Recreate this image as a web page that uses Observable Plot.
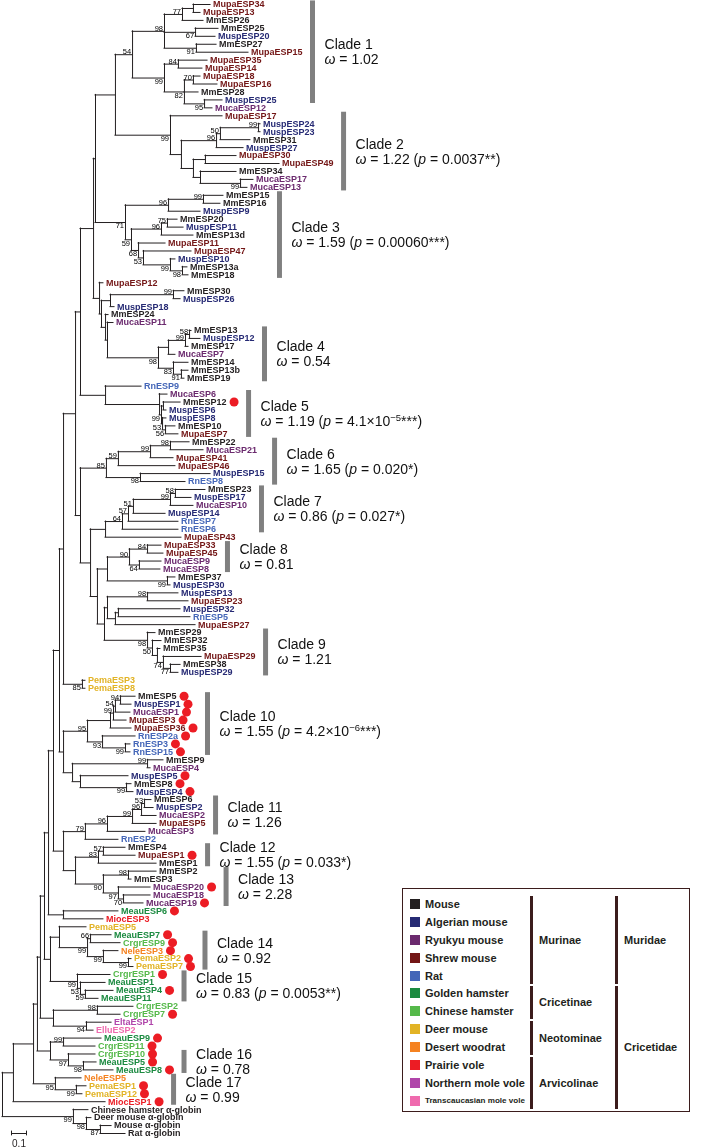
<!DOCTYPE html>
<html><head><meta charset="utf-8">
<script src="https://cdn.jsdelivr.net/npm/d3@7"></script>
<script src="https://cdn.jsdelivr.net/npm/@observablehq/plot@0.6"></script>
<style>
html,body{margin:0;padding:0;background:#fff;}
#wrap{position:relative;width:701px;height:1148px;overflow:hidden;font-family:'Liberation Sans',Arial,sans-serif;}
#wrap svg{display:block;will-change:transform;}
</style></head><body><div id="wrap"></div>
<script>
// ---------------- DATA ----------------
// species (prefix of each ESP gene name), common names and colours
const speciesCodes  = ["Mm","Musp","Muca","Mupa","Rn","Meau","Crgr","Pema","Nele","Mioc","Elta","Ellu"];
const speciesNames  = ["Mouse","Algerian mouse","Ryukyu mouse","Shrew mouse","Rat","Golden hamster","Chinese hamster","Deer mouse","Desert woodrat","Prairie vole","Northern mole vole","Transcaucasian mole vole"];
const speciesColors = ["#231f20","#262a74","#6b2a6e","#731616","#4466b8","#1b8a40","#55b94a","#e2b325","#f58220","#ec1c24","#b045aa","#ef6aae"];
const subfamilyNames = ["Murinae","Cricetinae","Neotominae","Arvicolinae"];
const subfamilySpan  = [[0,4],[5,6],[7,8],[9,11]];   // first / last species row
const familyNames    = ["Muridae","Cricetidae"];
const familySpan     = [[0,4],[5,11]];

// Tree (Newick); the number after ':' is the node's distance from the root,
// in substitutions per 100 sites; internal labels are bootstrap values.
const clade1 = "((((MupaESP34:138.7,MupaESP13:132):127.3,MmESP26:134)77:120,(MmESP25:144,MuspESP20:142)67:128.7,(MmESP27:142.7,MupaESP15:164)91:129.3)98:108,((MupaESP35:136.7,MupaESP14:133.3)84:117.3,((MupaESP18:132,MupaESP16:143.3)70:127.3,MmESP28:130.7,(MuspESP25:146.7,MucaESP12:140)95:134.7)82:121.3)99:108)54:86.7";
const clade2 = "(MupaESP17:146.7,((((MuspESP24:172,MuspESP23:172)99:170.7,MmESP31:165.3)50:145.3,MuspESP27:160.7)96:142.7,((MupaESP30:156,MupaESP49:184.7):135.3,(MmESP34:156,(MucaESP17:167.3,MucaESP13:163.3)99:158.7):132):127.3):119.3)99:112";
const clade3 = "(((MmESP15:147.3,MmESP16:145.3)99:134,MuspESP9:132)96:110.7,(((MmESP20:116.7,MuspESP11:120.7)75:110,MmESP13d:127.3)96:106,(MupaESP11:108.7,(MupaESP47:126,(MuspESP10:115.3,(MmESP13a:123.3,MmESP18:124)98:120)99:112)53:94)68:90.7)59:86)71:82";
const clade4 = "((((MmESP13:126,MuspESP12:132)58:124.7,MmESP17:124)99:122,MucaESP7:115.3):110.7,(MmESP14:124,(MmESP13b:124,MmESP19:121.3)91:119.3)83:114)98:104";
const group12 = "(MupaESP12:67.3,(((MmESP30:121.3,MuspESP26:118.7)99:114,MuspESP18:74.7):72,(MmESP24:70.7,(MucaESP11:74," + clade4 + "):70):68.7):66):64.7";
const clade5 = "(RnESP9:92.7,(MucaESP6:110,((MmESP12:118.7,MuspESP6:109.3):107.3,(MuspESP8:109.3,(MmESP10:115.3,MupaESP7:117.3)56:108.7)53:106.7)99:106):104.7):68.7";
const clade6 = "((((MmESP22:124.7,MucaESP21:134)98:112,MupaESP41:114)99:98.7,MupaESP46:115.3)59:77.3,(MuspESP15:138.7,RnESP8:122)98:92)85:69.3";
const clade7 = "((((((MmESP23:135.3,MuspESP17:126)58:115.3,MucaESP10:127.3)99:112,MuspESP14:108.7)51:87.3,RnESP7:117.3)57:84,RnESP6:117.3)64:80,MupaESP43:119.3):68.7";
const clade8 = "(((MupaESP33:106,MupaESP45:107.3)84:96.7,(MucaESP9:106,MucaESP8:105.3)64:91.3)90:84.7,(MmESP37:115.3,MuspESP30:112)99:110):70";
const group13 = "((MuspESP13:117.3,MupaESP23:124)98:96.7,((MuspESP32:118.7,RnESP5:125.3):77.3,MupaESP27:128.7):75.3):70";
const clade9 = "(MmESP29:102,(MmESP32:106,(MmESP35:105.3,(MupaESP29:132.7,(MmESP38:118.7,MuspESP29:117.3)77:112)74:107.3):103.3)50:100)98:96.7";
const pema38 = "(PemaESP3:55.3,PemaESP8:55.3)85:53.3";
const clade10 = "(((((MmESP5:88.7,MuspESP1:86)94:78.7,MucaESP1:85.3)54:75.3,MupaESP3:82.7)99:74,MupaESP36:86):72,(RnESP2a:88.7,(RnESP3:85.3,RnESP15:85.3)99:82)93:66.7)95:56.7";
const group9 = "((MmESP9:107.3,MucaESP4:98.7)99:96.7,(MuspESP5:84,(MmESP8:86,MuspESP4:87.3)99:82.7):52):46.7";
const clade11 = "(((((MmESP6:99.3,MuspESP2:100.7)53:94.7,MucaESP2:102.7)96:92.7,MupaESP5:102.7)99:86.7,MucaESP3:95.3)96:70,RnESP2:77.3)79:55.3";
const clade1213 = "(((MmESP4:82,MupaESP1:88.7)57:67.3,MmESP1:102.7)83:64,((MmESP2:102.7,MmESP3:86)98:84,(MucaESP20:98.7,(MucaESP18:98.7,MucaESP19:94)70:80.7)97:77.3)90:67.3):48.7";
const meauMioc = "(MeauESP6:77.3,MiocESP3:67.3):40.7";
const clade14 = "(PemaESP5:56,((MeauESP7:72.7,CrgrESP9:78.7)66:58.7,(NeleESP3:77.3,(PemaESP2:86,PemaESP7:87.3)99:84)99:67.3)99:56.7):38";
const clade15 = "(CrgrESP1:72,(MeauESP1:68.7,(MeauESP4:74,MeauESP11:64)59:55.3)53:52)99:50";
const crgrElta = "((CrgrESP2:87.3,CrgrESP7:78.7)98:63.3,(EltaESP1:72.7,ElluESP2:60.7)94:56):34";
const clade16 = "((MeauESP9:66,CrgrESP11:62)99:40.7,(CrgrESP10:62,(MeauESP5:62.7,MeauESP8:74)98:54)97:44):32";
const clade17 = "(NeleESP5:52.7,(PemaESP1:56,PemaESP12:53.3)99:49.3)95:35.3";
const globins = "(Chinese hamster α-globin:57.3,(Deer mouse α-globin:59.3,(Mouse α-globin:72.7,Rat α-globin:82)87:65.3)98:56)99:47.3";
// backbone joins: [depth, subtrees...]
const J = (d, ...p) => `(${p.join(",")}):${d}`;
const N115 = J(75.3, clade1, clade2);
const N95 = J(62, N115, clade3);
const N93 = J(60.7, N95, group12);
const N80 = J(52, N93, clade5);
const N106 = J(68, group13, clade9);
const N97 = J(63.3, clade8, N106);
const N90 = J(58.7, clade7, N97);
const N80b = J(52, clade6, N90);
const N75 = J(48.7, N80, N80b);
const N63 = J(40.7, N75, pema38);
const N63c = J(40.7, clade10, group9);
const N59 = J(38, N63, N63c);
const N63b = J(40.7, clade11, clade1213);
const N53 = J(34, N59, N63b);
const N48 = J(30.7, N53, meauMioc);
const N50 = J(32, clade14, clade15);
const N44 = J(28, N48, N50);
const N40 = J(25.3, N44, crgrElta);
const Nbig = J(23.3, N40, clade16);
const N35 = J(20.7, Nbig, clade17);
const ingroup = J(7.3, N35, "MiocESP1:68.7");
const newick = J(0, ingroup, globins) + ";";

// genes marked with a red dot
const dotLeaves = ["MmESP12","MmESP5","MuspESP1","MucaESP1","MupaESP3","MupaESP36","RnESP2a","RnESP3","RnESP15","MuspESP5","MmESP8","MuspESP4","MupaESP1","MucaESP20","MucaESP19","MeauESP6","MeauESP7","CrgrESP9","NeleESP3","PemaESP2","PemaESP7","CrgrESP1","MeauESP4","CrgrESP7","MeauESP9","CrgrESP11","CrgrESP10","MeauESP5","MeauESP8","PemaESP1","PemaESP12","MiocESP1"];

// clades with omega values
const cladeFirst = ["MupaESP34","MupaESP17","MmESP15","MmESP13","MucaESP6","MmESP22","MmESP23","MupaESP33","MmESP29","MmESP5","MmESP6","MmESP4","MmESP2","MeauESP7","CrgrESP1","CrgrESP10","NeleESP5"];
const cladeLast  = ["MuspESP25","MucaESP13","MmESP18","MmESP19","MupaESP7","RnESP8","RnESP6","MucaESP8","MuspESP29","RnESP15","MucaESP3","MmESP1","MucaESP19","PemaESP7","MeauESP11","MeauESP8","MiocESP1"];
const cladeOmega = ["1.02","1.22","1.59","0.54","1.19","1.65","0.86","0.81","1.21","1.55","1.26","1.55","2.28","0.92","0.83","0.78","0.99"];
const cladeP     = ["","0.0037","0.00060","","4.1×10^−5","0.020","0.027","","","4.2×10^−6","","0.033","","","0.0053","",""];
const cladeStars = ["","**","***","","***","*","*","","","***","","*","","","**","",""];

const scaleBarLength = 10; // = 0.1 substitutions per site
const scaleBarLabel = "0.1";

// ---------------- BUILD ----------------
function parseNewick(s) {
  let i = 0;
  function node() {
    const n = {children: []};
    if (s[i] === "(") {
      i++;
      n.children.push(node());
      while (s[i] === ",") { i++; n.children.push(node()); }
      i++;
    }
    let lab = "";
    while (i < s.length && !",():;".includes(s[i])) lab += s[i++];
    n.label = lab.trim();
    if (s[i] === ":") { i++; let num = ""; while (i < s.length && !",();".includes(s[i])) num += s[i++]; n.depth = +num; }
    return n;
  }
  return node();
}
const root = parseNewick(newick);
const nodes = [], leaves = [];
(function layout(n, parent) {
  n.parent = parent; nodes.push(n);
  if (!n.children.length) { n.y = leaves.length; leaves.push(n); }
  else { n.children.forEach(c => layout(c, n)); n.y = (n.children[0].y + n.children[n.children.length - 1].y) / 2; }
})(root, null);

const colorOf = name => { const k = speciesCodes.indexOf(name.split("ESP")[0]); return k >= 0 ? speciesColors[k] : "#231f20"; };

const W = 701, H = 1148;
const xDomain = [0, 466], xRange = [2, 701];
const yDomain = [0, leaves.length - 1], yRange = [4, 1133];
const xs = Plot.scale({x: {domain: xDomain, range: xRange}});

const FONT = "'Liberation Sans', Arial, sans-serif";
const ctx = document.createElement("canvas").getContext("2d");
ctx.font = `bold 9px ${FONT}`;
const leafDx = 2.5, dotGap = 7.5, dotR = 4.5;
leaves.forEach(l => {
  l.w = ctx.measureText(l.label).width;
  l.dot = dotLeaves.includes(l.label);
  l.dotPx = xs.apply(l.depth) + leafDx + l.w + dotGap;
  l.endPx = l.dot ? l.dotPx + dotR : xs.apply(l.depth) + leafDx + l.w;
});
const byName = new Map(leaves.map(l => [l.label, l]));

const hEdges = nodes.filter(n => n.parent).map(n => ({x1: n.parent.depth, x2: n.depth, y: n.y}));
const vEdges = nodes.filter(n => n.children.length).map(n => ({x: n.depth, y1: n.children[0].y, y2: n.children[n.children.length - 1].y}));
const boots = nodes.filter(n => n.children.length && n.label && n.parent);
const bootAbove = boots.filter(n => n.parent.children[0] === n);
const bootBelow = boots.filter(n => n.parent.children[0] !== n);
const dots = leaves.filter(l => l.dot).map(l => ({x: xs.invert(l.dotPx), y: l.y}));

const clades = cladeFirst.map((f, i) => {
  const a = byName.get(f).y, b = byName.get(cladeLast[i]).y;
  const maxEnd = d3.max(leaves.slice(a, b + 1), l => l.endPx);
  return {name: "Clade " + (i + 1), omega: cladeOmega[i], p: cladeP[i], stars: cladeStars[i],
          bx: xs.invert(maxEnd + 10), y1: a - 0.45, y2: b + 0.45, ym: (a + b) / 2};
});

const line = "#231f20";
const svg = Plot.plot({
  width: W, height: H,
  marginTop: 0, marginBottom: 0, marginLeft: 0, marginRight: 0,
  x: {domain: xDomain, range: xRange, axis: null},
  y: {domain: yDomain, range: yRange, axis: null},
  color: {type: "identity"},
  style: {fontFamily: FONT, background: "#fff", overflow: "visible"},
  marks: [
    Plot.ruleY(hEdges, {x1: "x1", x2: "x2", y: "y", stroke: line, strokeWidth: 1, strokeLinecap: "square"}),
    Plot.ruleX(vEdges, {x: "x", y1: "y1", y2: "y2", stroke: line, strokeWidth: 1, strokeLinecap: "square"}),
    Plot.text(leaves, {x: "depth", y: "y", text: "label", fill: d => colorOf(d.label), textAnchor: "start", dx: leafDx, fontSize: 9, fontWeight: "bold"}),
    Plot.text(bootAbove, {x: "depth", y: "y", text: "label", textAnchor: "end", lineAnchor: "bottom", dx: -1.5, dy: -0.5, fontSize: 7.5, fill: "#000"}),
    Plot.text(bootBelow, {x: "depth", y: "y", text: "label", textAnchor: "end", lineAnchor: "top", dx: -1.5, dy: 0.5, fontSize: 7.5, fill: "#000"}),
    Plot.dot(dots, {x: "x", y: "y", r: dotR, fill: "#ec1c24", stroke: "none"}),
    Plot.ruleX(clades, {x: "bx", y1: "y1", y2: "y2", stroke: "#808080", strokeWidth: 5}),
    Plot.text(clades, {x: "bx", y: "ym", text: "name", textAnchor: "start", dx: 12, dy: -7.5, fontSize: 14, fill: "#111"}),
    Plot.text(clades, {x: "bx", y: "ym", text: d => "ω = " + d.omega, textAnchor: "start", dx: 12, dy: 7.5, fontSize: 14, fill: "#111"}),
    // scale bar
    Plot.ruleY([{x1: 6, x2: 6 + scaleBarLength, y: leaves.length - 1}], {x1: "x1", x2: "x2", y: "y", stroke: line, strokeWidth: 1}),
    Plot.ruleX([6, 6 + scaleBarLength], {x: d => d, y1: leaves.length - 1.3, y2: leaves.length - 0.7, stroke: line, strokeWidth: 1}),
    Plot.text([scaleBarLabel], {x: 6 + scaleBarLength / 2, y: leaves.length - 1, text: d => d, dy: 10.5, fontSize: 10, fill: line})
  ]
});

// rich text for omega / p lines
const omegaTexts = Array.from(svg.querySelectorAll("text")).filter(t => t.textContent.startsWith("ω ="));
omegaTexts.forEach((el, i) => {
  const c = clades[i], t = d3.select(el);
  t.text(null);
  t.append("tspan").attr("font-style", "italic").text("ω");
  t.append("tspan").text(" = " + c.omega);
  if (c.p) {
    t.append("tspan").text(" (");
    t.append("tspan").attr("font-style", "italic").text("p");
    const [mant, exp] = c.p.split("^");
    t.append("tspan").text(" = " + mant);
    if (exp) {
      t.append("tspan").attr("dy", -5).attr("font-size", "9.5").text(exp);
      t.append("tspan").attr("dy", 5).text(c.stars + ")");
    } else t.append("tspan").text(c.stars + ")");
  }
});

const wrap = document.getElementById("wrap");
wrap.appendChild(svg);

// ---------------- LEGEND (HTML overlay) ----------------
const lg = document.createElement("div");
Object.assign(lg.style, {position: "absolute", left: "402px", top: "888px", width: "288px", height: "224px",
  border: "1px solid #3b1c1c", boxSizing: "border-box", background: "#fff", fontFamily: FONT, fontWeight: "bold", fontSize: "11px", color: "#231f20"});
const rowH = 17.9, padTop = 6;
ctx.font = `bold 11px ${FONT}`;
speciesNames.forEach((name, i) => {
  const r = document.createElement("div");
  Object.assign(r.style, {position: "absolute", left: "7px", top: (padTop + i * rowH) + "px", height: rowH + "px", display: "flex", alignItems: "center", whiteSpace: "nowrap"});
  const sw = document.createElement("div");
  Object.assign(sw.style, {width: "10px", height: "10px", background: speciesColors[i], marginRight: "5px", flex: "none"});
  const tx = document.createElement("span");
  tx.textContent = name;
  const avail = 100, w = ctx.measureText(name).width;
  if (w > avail) tx.style.fontSize = (11 * avail / w).toFixed(2) + "px";
  r.appendChild(sw); r.appendChild(tx); lg.appendChild(r);
});
function bracket(names, spans, left) {
  names.forEach((name, i) => {
    const [a, b] = spans[i];
    const top = padTop + a * rowH + 1, h = (b - a + 1) * rowH - 2;
    const bar = document.createElement("div");
    Object.assign(bar.style, {position: "absolute", left: left + "px", top: top + "px", width: "3px", height: h + "px", background: "#3b1c1c"});
    const lb = document.createElement("div");
    Object.assign(lb.style, {position: "absolute", left: (left + 9) + "px", top: (top + h / 2 - 7) + "px", height: "14px", lineHeight: "14px"});
    lb.textContent = name;
    lg.appendChild(bar); lg.appendChild(lb);
  });
}
bracket(subfamilyNames, subfamilySpan, 127);
bracket(familyNames, familySpan, 212);
wrap.appendChild(lg);
</script></body></html>
